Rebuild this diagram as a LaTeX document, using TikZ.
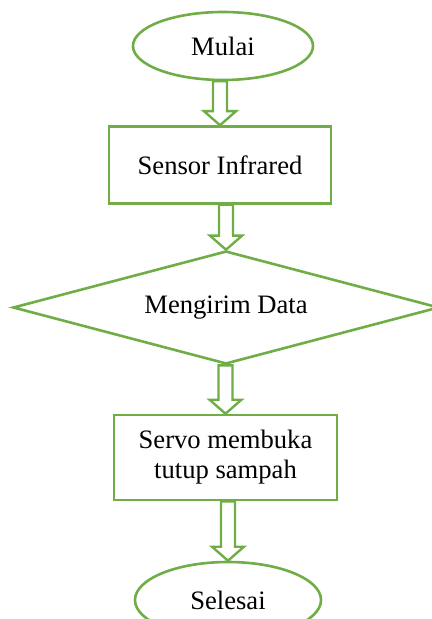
\documentclass[tikz,border=0pt]{standalone}
\usepackage{fontspec}
\setmainfont{Liberation Serif}
\usetikzlibrary{shapes.geometric,calc}
\definecolor{flowgreen}{HTML}{70AD47}

% hollow block arrow from the bottom of #1 down to the top of #2
\newcommand{\blockarrow}[2]{%
  \coordinate (#1-out) at (#2.north |- #1.south);
  \draw[arrowline] ($(#1-out)+(-7,0)$) -- ($(#2.north)+(-7,-14)$)
    -- ($(#2.north)+(-16,-14)$) -- (#2.north) -- ($(#2.north)+(16,-14)$)
    -- ($(#2.north)+(7,-14)$) -- ($(#1-out)+(7,0)$) -- cycle;}

\begin{document}
\begin{tikzpicture}[x=0.5pt,y=-0.5pt,
    every node/.style={font=\fontsize{13.3}{15}\selectfont},
    terminal/.style={ellipse,draw=flowgreen,line width=1.3pt,inner sep=0pt},
    process/.style={rectangle,draw=flowgreen,line width=1.3pt,inner sep=0pt},
    decision/.style={diamond,aspect=3.8,draw=flowgreen,line width=1.3pt,inner sep=0pt},
    arrowline/.style={draw=flowgreen,fill=white,line width=1.2pt,line join=miter}]
  \useasboundingbox (0,0) rectangle (432,619);

  \node[terminal,minimum width=90pt,minimum height=34pt] (mulai) at (223,46) {Mulai};
  \node[process,minimum width=111pt,minimum height=38.5pt] (sensor) at (220,165) {Sensor Infrared};
  \node[decision,minimum width=213pt,minimum height=56.5pt] (kirim) at (226,307.5) {Mengirim Data};
  \node[process,minimum width=111.5pt,minimum height=42.5pt,align=center] (servo) at (225.5,457.5) {Servo membuka\\tutup sampah};
  \node[terminal,minimum width=93pt,minimum height=38pt] (selesai) at (228,600) {Selesai};

  \blockarrow{mulai}{sensor}
  \blockarrow{sensor}{kirim}
  \blockarrow{kirim}{servo}
  \blockarrow{servo}{selesai}
\end{tikzpicture}
\end{document}
